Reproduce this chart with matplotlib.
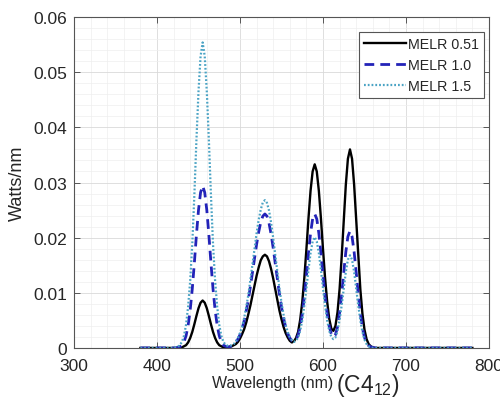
import numpy as np
import matplotlib
matplotlib.use("Agg")
from matplotlib import pyplot as plt
from matplotlib.ticker import AutoMinorLocator

plt.rcParams['font.family'] = ['Liberation Sans', 'DejaVu Sans']
plt.rcParams['mathtext.fontset'] = 'custom'
plt.rcParams['mathtext.rm'] = 'Liberation Sans'
plt.rcParams['mathtext.it'] = 'Liberation Sans:italic'

# wavelength grid (nm): 5 nm on the flat ends, 2.5 nm across the peaks
wavelength = np.concatenate([np.arange(380, 420, 5),
                             np.arange(420, 670, 2.5),
                             np.arange(670, 785, 5)])

# spectral power (Watts/nm)
melr_051 = [
    0, 0, 0, 0, 0, 0, 0, 0,
    0, 0, 0, 0, 0.0001, 0.0003, 0.0005, 0.0010, 0.0018, 0.0029,
    0.0043, 0.0058, 0.0072, 0.0082, 0.0086, 0.0082, 0.0072, 0.0058, 0.0043, 0.0029,
    0.0018, 0.0010, 0.0005, 0.0003, 0.0001, 0.0001, 0.0001, 0.0002, 0.0003, 0.0005,
    0.0007, 0.0011, 0.0017, 0.0025, 0.0034, 0.0046, 0.0061, 0.0077, 0.0095, 0.0113,
    0.0131, 0.0146, 0.0159, 0.0166, 0.0169, 0.0166, 0.0157, 0.0143, 0.0126, 0.0106,
    0.0087, 0.0068, 0.0052, 0.0038, 0.0027, 0.0019, 0.0013, 0.0010, 0.0012, 0.0018,
    0.0029, 0.0051, 0.0083, 0.0127, 0.0179, 0.0235, 0.0285, 0.0320, 0.0333, 0.0320,
    0.0285, 0.0235, 0.0179, 0.0127, 0.0084, 0.0053, 0.0035, 0.0031, 0.0040, 0.0065,
    0.0107, 0.0165, 0.0232, 0.0296, 0.0343, 0.0360, 0.0343, 0.0296, 0.0232, 0.0165,
    0.0106, 0.0062, 0.0033, 0.0016, 0.0007, 0.0003, 0.0001, 0, 0, 0,
    0, 0, 0, 0, 0, 0, 0, 0, 0, 0, 0, 0, 0, 0, 0, 0, 0, 0, 0, 0, 0, 0, 0,
]
melr_10 = [
    0, 0, 0, 0, 0, 0, 0, 0,
    0, 0, 0.0001, 0.0002, 0.0005, 0.0011, 0.0022, 0.0041, 0.0069, 0.0107,
    0.0154, 0.0205, 0.0250, 0.0282, 0.0294, 0.0282, 0.0250, 0.0205, 0.0154, 0.0107,
    0.0069, 0.0041, 0.0022, 0.0011, 0.0005, 0.0003, 0.0002, 0.0002, 0.0004, 0.0007,
    0.0011, 0.0016, 0.0024, 0.0035, 0.0049, 0.0067, 0.0087, 0.0111, 0.0137, 0.0163,
    0.0188, 0.0210, 0.0228, 0.0239, 0.0243, 0.0239, 0.0226, 0.0206, 0.0181, 0.0153,
    0.0125, 0.0098, 0.0074, 0.0054, 0.0038, 0.0026, 0.0018, 0.0013, 0.0012, 0.0015,
    0.0023, 0.0038, 0.0061, 0.0093, 0.0131, 0.0172, 0.0208, 0.0234, 0.0243, 0.0234,
    0.0208, 0.0172, 0.0131, 0.0093, 0.0062, 0.0039, 0.0025, 0.0020, 0.0024, 0.0038,
    0.0064, 0.0097, 0.0137, 0.0174, 0.0202, 0.0212, 0.0202, 0.0174, 0.0137, 0.0097,
    0.0063, 0.0036, 0.0019, 0.0009, 0.0004, 0.0002, 0.0001, 0, 0, 0,
    0, 0, 0, 0, 0, 0, 0, 0, 0, 0, 0, 0, 0, 0, 0, 0, 0, 0, 0, 0, 0, 0, 0,
]
melr_15 = [
    0, 0, 0, 0, 0, 0, 0, 0,
    0, 0.0001, 0.0002, 0.0005, 0.0011, 0.0022, 0.0042, 0.0075, 0.0122, 0.0188,
    0.0277, 0.0377, 0.0465, 0.0529, 0.0554, 0.0529, 0.0465, 0.0377, 0.0277, 0.0188,
    0.0122, 0.0075, 0.0042, 0.0022, 0.0011, 0.0006, 0.0004, 0.0004, 0.0005, 0.0007,
    0.0012, 0.0018, 0.0027, 0.0039, 0.0054, 0.0074, 0.0096, 0.0123, 0.0151, 0.0180,
    0.0208, 0.0232, 0.0251, 0.0264, 0.0268, 0.0263, 0.0249, 0.0227, 0.0199, 0.0169,
    0.0138, 0.0108, 0.0082, 0.0060, 0.0042, 0.0029, 0.0020, 0.0014, 0.0011, 0.0013,
    0.0019, 0.0031, 0.0050, 0.0077, 0.0108, 0.0142, 0.0172, 0.0193, 0.0201, 0.0193,
    0.0172, 0.0142, 0.0108, 0.0077, 0.0050, 0.0031, 0.0020, 0.0016, 0.0019, 0.0031,
    0.0051, 0.0077, 0.0108, 0.0138, 0.0160, 0.0168, 0.0160, 0.0138, 0.0108, 0.0077,
    0.0050, 0.0029, 0.0015, 0.0007, 0.0003, 0.0001, 0, 0, 0, 0,
    0, 0, 0, 0, 0, 0, 0, 0, 0, 0, 0, 0, 0, 0, 0, 0, 0, 0, 0, 0, 0, 0, 0,
]
labels = ['MELR 0.51', 'MELR 1.0', 'MELR 1.5']

x_ticks = [300, 400, 500, 600, 700, 800]
y_ticks = [0, 0.01, 0.02, 0.03, 0.04, 0.05, 0.06]
y_ticklabels = ['0', '0.01', '0.02', '0.03', '0.04', '0.05', '0.06']

fig = plt.figure(figsize=(5, 4.02), dpi=100)
ax = fig.add_axes([0.148, 0.132, 0.830, 0.823])

ax.plot(wavelength, melr_051, color='black', lw=1.7, label=labels[0])
ax.plot(wavelength, melr_10, color='#2323b8', lw=2.0, dashes=(3.5, 2.2), label=labels[1])
ax.plot(wavelength, melr_15, color='#4aa3c4', lw=1.6, linestyle=(0, (0.8, 0.9)), label=labels[2])

ax.set_xlim(300, 800)
ax.set_ylim(0, 0.06)
ax.set_xticks(x_ticks)
ax.set_yticks(y_ticks)
ax.set_yticklabels(y_ticklabels)
ax.xaxis.set_minor_locator(AutoMinorLocator(5))
ax.yaxis.set_minor_locator(AutoMinorLocator(5))

# matlab style box, ticks inside on all sides
ax.tick_params(which='both', direction='in', top=True, right=True,
               colors='#404040', labelcolor='#262626', labelsize=12.5)
ax.tick_params(which='major', length=4, width=0.6)
ax.tick_params(axis='x', which='major', pad=7)
ax.tick_params(axis='y', which='major', pad=5)
ax.tick_params(which='minor', length=0)
for s in ax.spines.values():
    s.set_color('#555555')
    s.set_linewidth(0.8)

ax.grid(which='major', color='#d9d9d9', lw=0.6)
ax.grid(which='minor', color='#eeeeee', lw=0.5)
ax.set_axisbelow(True)

ax.set_ylabel('Watts/nm', fontsize=13, color='#262626', labelpad=5)
fig.text(0.424, 0.036, 'Wavelength (nm)', fontsize=11.5, color='#262626', ha='left', va='baseline')
fig.text(0.671, 0.026, '(C4$_{12}$)', fontsize=16.5, color='#262626', ha='left', va='baseline')

leg = ax.legend(loc='upper right', bbox_to_anchor=(0.988, 0.955), borderaxespad=0,
                fontsize=10.3, frameon=True, fancybox=False, framealpha=1,
                edgecolor='#555555', borderpad=0.35, labelspacing=0.5,
                handlelength=2.9, handletextpad=0.15)
leg.get_frame().set_linewidth(0.8)
for t in leg.get_texts():
    t.set_color('#262626')

fig.savefig('out.png', dpi=100)
